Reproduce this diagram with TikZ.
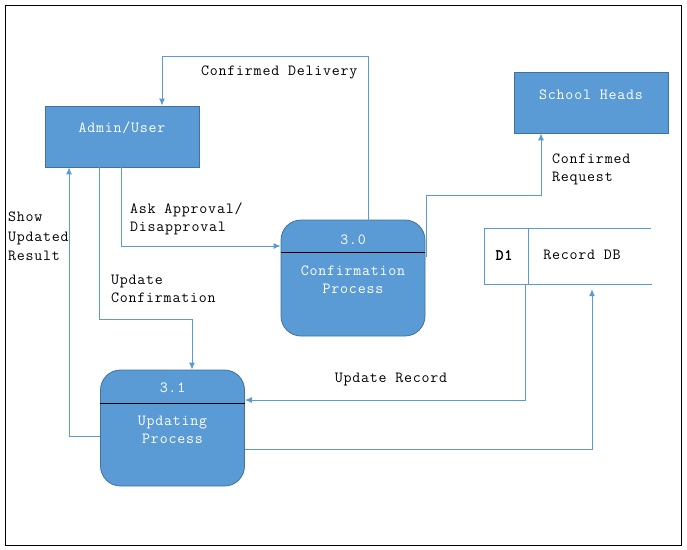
\documentclass[tikz,border=0pt]{standalone}
\usepackage{fontspec}
\newfontfamily\cour{Latin Modern Mono}[LetterSpace=5]
\newfontfamily\courb{Latin Modern Mono}[LetterSpace=5,FakeBold=2]
\usetikzlibrary{arrows.meta}
\definecolor{boxfill}{HTML}{5B9BD5}
\definecolor{boxedge}{HTML}{41719C}
\definecolor{flowc}{HTML}{5B9BD5}
\begin{document}
\begin{tikzpicture}[x=1pt,y=-1pt,
  ent/.style={draw=boxedge,fill=boxfill,line width=0.8pt,minimum width=154pt,minimum height=61pt,inner sep=0pt},
  proc/.style={draw=boxedge,fill=boxfill,line width=0.8pt,rounded corners=20pt,minimum width=144pt,minimum height=116pt,inner sep=0pt},
  intext/.style={text=white,font=\cour\fontsize{15.5}{18}\selectfont,align=center,inner sep=0pt},
  lbl/.style={text=black,font=\cour\fontsize{15.5}{18}\selectfont,align=left,inner sep=0pt,anchor=west},
  flow/.style={draw=flowc,line width=0.9pt},
  arr/.style={flow,-{Latex[length=7pt,width=6pt]}}
]
\useasboundingbox (0,0) rectangle (687,549);
\draw[black,line width=1pt] (5,5) rectangle (681,545);

% entities
\node[ent] (admin) at (122,136.5) {};
\node[intext] (admintxt) at (122,128) {Admin/User};
\node[ent] (heads) at (591,102.5) {};
\node[intext] (headstxt) at (591,95) {School Heads};

% processes
\node[proc] (p30) at (353,278) {};
\draw[black,line width=0.9pt] (p30.west |- 0,252) -- (p30.east |- 0,252);
\node[intext] (p30id) at (353,240) {3.0};
\node[intext] (p30txt) at (353,280) {Confirmation\\Process};

\node[proc] (p31) at (172.5,428) {};
\draw[black,line width=0.9pt] (p31.west |- 0,403) -- (p31.east |- 0,403);
\node[intext] (p31id) at (172.5,388) {3.1};
\node[intext] (p31txt) at (172.5,430) {Updating\\Process};

% data store
\coordinate (d1nw) at (484,228);
\coordinate (d1sw) at (484,284);
\node[minimum width=167pt,minimum height=56pt,inner sep=0pt] (d1) at (567.5,256) {};
\draw[flowc,line width=0.9pt] (651,228) -- (d1nw) -- (d1sw) -- (652,284);
\draw[flowc,line width=0.9pt] (528,228) -- (528,284);
\node[font=\courb\fontsize{15.5}{18}\selectfont,inner sep=0pt] (d1id) at (504,255) {D1};
\node[font=\cour\fontsize{15.5}{18}\selectfont,inner sep=0pt] (d1txt) at (582,255) {Record DB};

% connectors
\draw[arr] ([xshift=15pt]p30.north) -- ++(0,-163) -| ([xshift=40pt]admin.north);
\draw[arr] ([xshift=1pt,yshift=21pt]p30.east) -- ++(0,-62) -| ([xshift=-50pt]heads.south);
\draw[arr] ([xshift=-1pt]admin.south) |- ([yshift=32pt]p30.west);
\draw[arr] ([xshift=-23pt]admin.south) -- ++(0,152) -| ([xshift=19.5pt]p31.north);
\draw[arr] ([yshift=-8pt]p31.west) -| ([xshift=-53pt]admin.south);
\draw[arr] ([xshift=-42.5pt]d1.south) |- ([yshift=28pt]p31.east);
\draw[arr] ([yshift=-21pt]p31.east) -| ([xshift=24.5pt,yshift=-5pt]d1.south);

% labels
\node[lbl] (lcd) at (201,72) {Confirmed Delivery};
\node[lbl] (lcr) at (552,169.5) {Confirmed\\Request};
\node[lbl] (laa) at (130,218.5) {Ask Approval/\\Disapproval};
\node[lbl,font=\cour\fontsize{15.5}{19.5}\selectfont] (lsu) at (8,236.5) {Show\\Updated\\Result};
\node[lbl] (luc) at (111,289) {Update\\Confirmation};
\node[lbl,anchor=center] (lur) at (391,379) {Update Record};
\end{tikzpicture}
\end{document}
